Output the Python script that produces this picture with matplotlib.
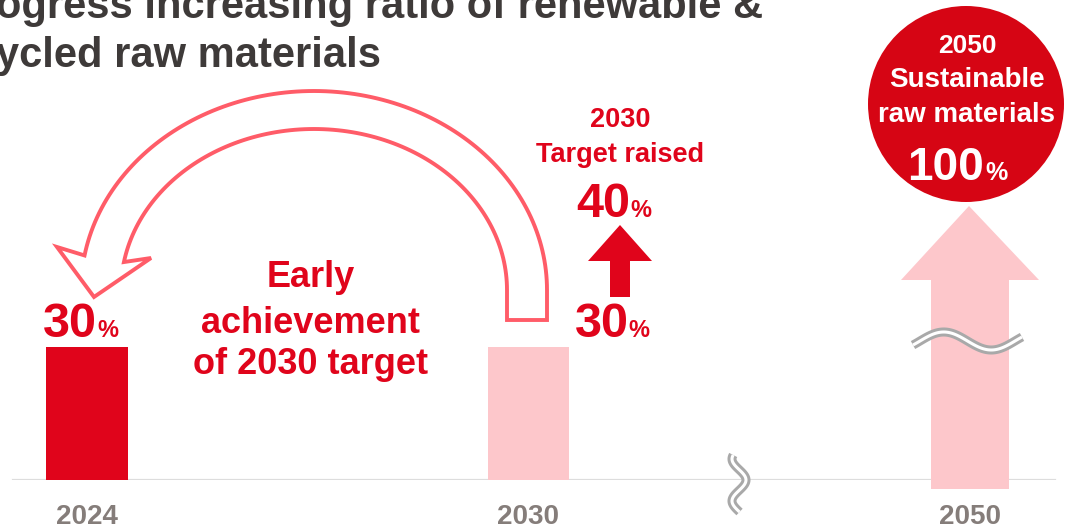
import numpy as np
import matplotlib
matplotlib.use('Agg')
import matplotlib.pyplot as plt
from matplotlib.patches import Polygon, Circle

plt.rcParams['font.family'] = ['Liberation Sans', 'DejaVu Sans']
plt.rcParams['font.weight'] = 'bold'

RED = '#e0041b'
PINK = '#fdc7cb'
OUTLINE = '#ff5c68'
GREY = '#857d7a'

# ratio of renewable & recycled raw materials (%)
years = ['2024', '2030', '2050']
ratio = [30, 30]          # 2024 result, original 2030 target
raised_target = 40        # new 2030 target
goal_2050 = 100

fig = plt.figure(figsize=(10.68, 5.29), dpi=100)

# bar axes: baseline sits 49 px above the bottom edge
ax = fig.add_axes([0, 49 / 529, 1, 480 / 529])
ax.set_xlim(-87 / 441.5, 981 / 441.5)
ax.set_ylim(0, 108)
pos = np.arange(len(years))
ax.bar(pos[:2], ratio, width=0.184, color=[RED, PINK], zorder=2)
ax.axhline(0, xmin=13 / 1068, xmax=1055 / 1068, color='#dddddd', lw=1.6, zorder=1)
ax.set_xticks(pos, years)
ax.tick_params(axis='x', length=0, pad=17, labelsize=20, labelcolor=GREY)
ax.set_yticks([])
for s in ax.spines.values():
    s.set_visible(False)
ax.patch.set_alpha(0)

for x, v, dx in zip(pos[:2], ratio, [10, 100]):
    ax.annotate(f'{v}', (x, v), xytext=(dx, 10), textcoords='offset pixels',
                ha='right', va='baseline', fontsize=35, color=RED)
    ax.annotate('%', (x, v), xytext=(dx, 10), textcoords='offset pixels',
                ha='left', va='baseline', fontsize=17, color=RED)

# overlay in pixel units for the decorations
ov = fig.add_axes([0, 0, 1, 1], zorder=3)
ov.set_xlim(0, 1068)
ov.set_ylim(529, 0)
ov.axis('off')

# title (cut at the left edge)
ov.text(-4, 18, 'ogress increasing ratio of renewable &', fontsize=30,
        color='#3e3a39', va='baseline')
ov.text(-4, 67, 'ycled raw materials', fontsize=30, color='#3e3a39', va='baseline')

# hollow curved arrow from 2030 back to 2024
cx, cy = 314, 290
t = np.radians(np.linspace(0, 170, 120))
outer = np.c_[cx + 233 * np.cos(t), cy - 199 * np.sin(t)]
inner = np.c_[cx + 193 * np.cos(t), cy - 161 * np.sin(t)][::-1]
pts = np.vstack([[(547, 320)], outer, [(57, 247), (94, 297), (151, 258)], inner, [(507, 320)]])
ov.add_patch(Polygon(pts, closed=True, facecolor='white', edgecolor=OUTLINE, lw=2.8))

for yb, line in zip([287, 333, 374], ['Early', 'achievement', 'of 2030 target']):
    ov.text(311, yb, line, fontsize=26, color=RED, ha='center', va='baseline')

# raised target
ov.text(620, 127, '2030', fontsize=19.5, color=RED, ha='center', va='baseline')
ov.text(620, 162, 'Target raised', fontsize=19.5, color=RED, ha='center', va='baseline')
ov.text(630, 217, f'{raised_target}', fontsize=35, color=RED, ha='right', va='baseline')
ov.text(630, 217, '%', fontsize=17, color=RED, ha='left', va='baseline')
ov.add_patch(Polygon([(610, 297), (610, 261), (588, 261), (620, 225), (652, 261),
                      (630, 261), (630, 297)], closed=True, color=RED, lw=0))

# 2050 arrow and goal bubble
ov.add_patch(Polygon([(931, 489), (931, 280), (901, 280), (969, 206), (1039, 280),
                      (1009, 280), (1009, 489)], closed=True, color=PINK, lw=0))
ov.add_patch(Circle((966, 104), 98, color='#d60514', lw=0))
ov.text(967, 53, '2050', fontsize=19, color='white', ha='center', va='baseline')
ov.text(967, 87, 'Sustainable', fontsize=20, color='white', ha='center', va='baseline')
ov.text(967, 122, 'raw materials', fontsize=20, color='white', ha='center', va='baseline')
ov.text(984, 180, f'{goal_2050}', fontsize=33, color='white', ha='right', va='baseline')
ov.text(985, 180, '%', fontsize=18, color='white', ha='left', va='baseline')


def squiggle(x, y):
    ov.plot(x, y, color='#a9a9a9', lw=6.5, solid_capstyle='butt')
    ov.plot(x, y, color='white', lw=2.2, solid_capstyle='butt')


# axis break marks
wx = np.linspace(913, 1022, 80)
squiggle(wx, 341 - 9 * np.sin(2 * np.pi * (wx - 920) / 95))
wy = np.linspace(455, 512, 60)
squiggle(739 + 7 * np.cos(2 * np.pi * (wy - 480) / 42), wy)

fig.savefig('out.png', dpi=100)
